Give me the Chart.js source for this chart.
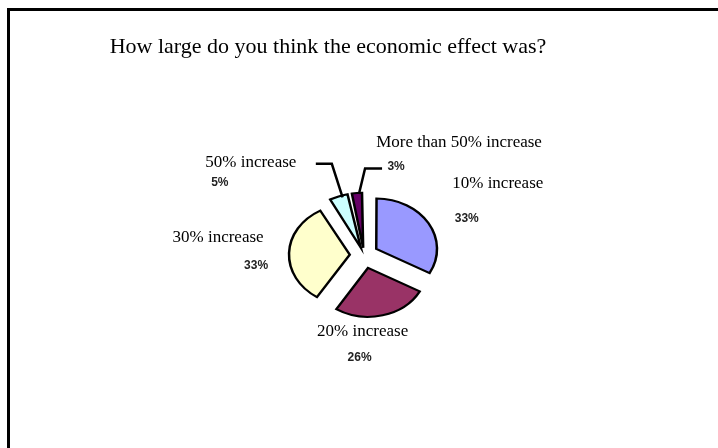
<!DOCTYPE html>
<html>
<head>
<meta charset="utf-8">
<script src="https://cdn.jsdelivr.net/npm/chart.js@4.4.1/dist/chart.umd.min.js"></script>
<style>
    html, body { margin: 0; padding: 0; background: #fff; }
    body { width: 718px; height: 448px; position: relative; overflow: hidden; }
    #frame {
        position: absolute; left: 7px; top: 8px;
        width: 800px; height: 500px;
        border: 3px solid #000; box-sizing: border-box;
    }
    #wrap { position: absolute; left: 0; top: 0; width: 718px; height: 448px; }
</style>
</head>
<body>
<div id="frame"></div>
<div id="wrap"><canvas id="pieChart" width="718" height="448"></canvas></div>
<script>
// Chart data
const chartTitle = 'How large do you think the economic effect was?';
const categories = ['10% increase', '20% increase', '30% increase', '50% increase', 'More than 50% increase'];
const percentages = [33, 26, 33, 5, 3];
const sliceColors = ['#9999FF', '#993366', '#FFFFCC', '#CCFFFF', '#660066'];

// Layout tweaks for the labels (relative to an anchor just outside each slice)
const nameShift = [[52, -31], [-25, 0], [-51, -15], [-81, -18], [104, -34]];
const pctShift = [[21, 4], [-28, 26], [-13, 13], [-112, 2], [41, -10]];
// leader line knee [dx, dy] from the anchor, and length of the flat part
const leaders = [null, null, null, [0, -17, -16], [10, -8, 17]];

const pieSquash = 0.83;   // the original pie is slightly flattened
const pieRadius = 59;
const explode = 16;

/**
 * Chart.js pushes a slice out by offset/4 * (2 - sin(angle)),
 * so work back from the distance we want for every slice
 */
function sliceOffset(ctx) {
    const total = percentages.reduce((a, b) => a + b, 0);
    const angle = percentages[ctx.dataIndex] / total * Math.PI * 2;
    const fix = 1 - Math.sin(Math.min(Math.PI, angle));
    return explode * 4 / (1 + fix);
}

/**
 * Flatten the pie vertically around its centre
 */
const squashPlugin = {
    id: 'squash',
    beforeDatasetsDraw(chart) {
        const arc = chart.getDatasetMeta(0).data[0];
        const ctx = chart.ctx;
        ctx.save();
        ctx.translate(arc.x, arc.y);
        ctx.scale(1, pieSquash);
        ctx.translate(-arc.x, -arc.y);
    },
    afterDatasetsDraw(chart) {
        chart.ctx.restore();
    }
};

/**
 * Title and slice labels with leader lines
 */
const labelPlugin = {
    id: 'sliceLabels',
    afterDraw(chart) {
        const ctx = chart.ctx;
        ctx.save();
        ctx.fillStyle = '#000';
        ctx.textBaseline = 'middle';
        ctx.textAlign = 'center';
        ctx.font = '22px "Liberation Serif", "Times New Roman", serif';
        ctx.fillText(chartTitle, 328, 47);

        chart.getDatasetMeta(0).data.forEach((arc, i) => {
            const p = arc.getProps(['x', 'y', 'startAngle', 'endAngle', 'outerRadius'], true);
            const mid = (p.startAngle + p.endAngle) / 2;
            const dx = Math.cos(mid), dy = Math.sin(mid);
            const dist = explode + p.outerRadius + 20;
            const ax = p.x + dx * dist;
            const ay = p.y + dy * dist * pieSquash;

            const lead = leaders[i];
            if (lead) {
                const ex = p.x + dx * (explode + p.outerRadius);
                const ey = p.y + dy * (explode + p.outerRadius) * pieSquash;
                const kx = ax + lead[0];
                const ky = ay + lead[1];
                ctx.strokeStyle = '#000';
                ctx.lineWidth = 2.5;
                ctx.beginPath();
                ctx.moveTo(ex + (dx < -0.2 ? 4 : 2), ey + 1);
                ctx.lineTo(kx, ky);
                ctx.lineTo(kx + lead[2], ky);
                ctx.stroke();
            }

            ctx.fillStyle = '#000';
            ctx.font = '17px "Liberation Serif", "Times New Roman", serif';
            ctx.fillText(categories[i], ax + nameShift[i][0], ay + nameShift[i][1]);
            ctx.fillStyle = '#222';
            ctx.font = 'bold 12px "Liberation Sans", Arial, sans-serif';
            ctx.fillText(percentages[i] + '%', ax + pctShift[i][0], ay + pctShift[i][1]);
        });
        ctx.restore();
    }
};

new Chart(document.getElementById('pieChart'), {
    type: 'pie',
    data: {
        labels: categories,
        datasets: [{
            data: percentages,
            backgroundColor: sliceColors,
            borderColor: '#000',
            borderWidth: 2.5,
            borderJoinStyle: 'miter',
            offset: sliceOffset,
            radius: pieRadius
        }]
    },
    options: {
        responsive: false,
        animation: false,
        events: [],
        layout: { padding: { left: 264, right: 254, top: 155, bottom: 93 } },
        plugins: {
            legend: { display: false },
            tooltip: { enabled: false },
            title: { display: false }
        }
    },
    plugins: [squashPlugin, labelPlugin]
});
</script>
</body>
</html>
